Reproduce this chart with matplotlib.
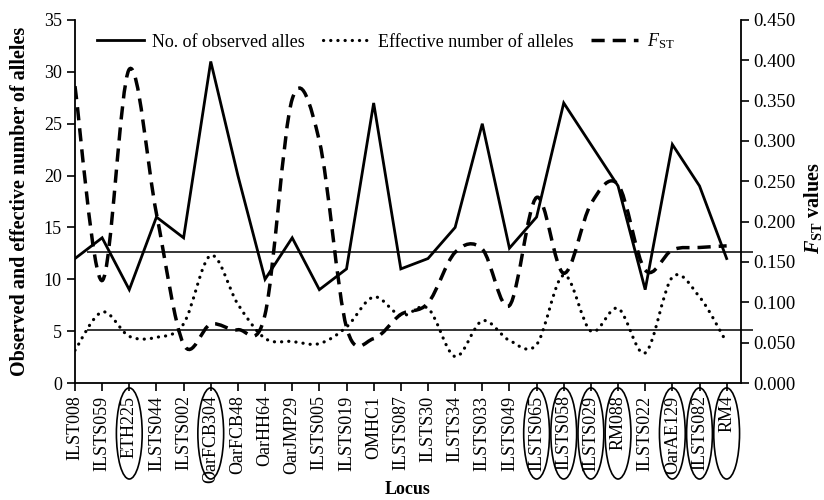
import numpy as np
import matplotlib
matplotlib.use("Agg")
import matplotlib.pyplot as plt
from matplotlib.lines import Line2D
from matplotlib.patches import Ellipse, PathPatch
from matplotlib.path import Path
from matplotlib.ticker import FormatStrFormatter
from matplotlib.transforms import blended_transform_factory

plt.rcParams["font.family"] = "serif"
plt.rcParams["font.serif"] = ["Liberation Serif", "DejaVu Serif"]
plt.rcParams["mathtext.fontset"] = "custom"
plt.rcParams["mathtext.rm"] = "Liberation Serif"
plt.rcParams["mathtext.it"] = "Liberation Serif:italic"
plt.rcParams["mathtext.bf"] = "Liberation Serif:bold"
plt.rcParams["mathtext.bfit"] = "Liberation Serif:italic:bold"

loci = [
    "ILST008", "ILSTS059", "ETH225", "ILSTS044", "ILSTS002", "OarFCB304",
    "OarFCB48", "OarHH64", "OarJMP29", "ILSTS005", "ILSTS019", "OMHC1",
    "ILSTS087", "ILSTS30", "ILSTS34", "ILSTS033", "ILSTS049", "ILSTS065",
    "ILSTS058", "ILSTS029", "RM088", "ILSTS022", "OarAE129", "ILSTS082", "RM4",
]
observed = [12, 14, 9, 16, 14, 31, 20, 10, 14, 9, 11, 27, 11, 12, 15, 25,
            13, 16, 27, 23, 19, 9, 23, 19, 12]
effective = [3.15, 6.85, 4.5, 4.4, 5.7, 12.3, 7.6, 4.3, 4.0, 3.8, 5.4, 8.3,
             6.5, 7.2, 2.55, 6.0, 4.1, 3.7, 10.4, 5.0, 7.2, 2.9, 10.2, 8.3, 3.9]
fst = [0.368, 0.127, 0.389, 0.21, 0.048, 0.073, 0.066, 0.085, 0.352, 0.300,
       0.069, 0.055, 0.085, 0.099, 0.162, 0.166, 0.096, 0.230, 0.136, 0.222,
       0.246, 0.140, 0.165, 0.168, 0.170]
ref_levels = [12.66, 5.15]
circled = ["ETH225", "OarFCB304", "ILSTS065", "ILSTS058", "ILSTS029",
           "RM088", "OarAE129", "ILSTS082", "RM4"]


def smooth_path(x, y):
    # excel-like smoothed line: bezier segments through every point
    pts = np.column_stack([x, y]).astype(float)
    n = len(pts)
    verts = [pts[0]]
    codes = [Path.MOVETO]
    for i in range(n - 1):
        p0 = pts[max(i - 1, 0)]
        p1 = pts[i]
        p2 = pts[i + 1]
        p3 = pts[min(i + 2, n - 1)]
        verts += [p1 + (p2 - p0) / 6, p2 - (p3 - p1) / 6, p2]
        codes += [Path.CURVE4] * 3
    return Path(verts, codes)


x = np.arange(len(loci))

fig, ax = plt.subplots(figsize=(8.24, 5.0), dpi=100, facecolor="white")
fig.subplots_adjust(left=0.091, right=0.899, bottom=0.234, top=0.96)
ax2 = ax.twinx()

ax.plot(x, observed, color="black", linewidth=2.0, solid_joinstyle="miter")

dotted = (0, (0.05, 2.2))
dashed = (0, (3.8, 2.3))
ax.add_patch(PathPatch(smooth_path(x, effective), facecolor="none",
                       edgecolor="black", linewidth=2.3, linestyle=dotted,
                       capstyle="round"))
ax2.add_patch(PathPatch(smooth_path(x, fst), facecolor="none",
                        edgecolor="black", linewidth=2.5, linestyle=dashed,
                        capstyle="butt"))

ax.hlines(ref_levels, 0.43, 24.97, color="black", linewidth=1.1, clip_on=False)

ax.set_xlim(0, 24.52)
ax.set_ylim(0, 35)
ax.set_yticks(np.arange(0, 36, 5))
ax2.set_ylim(0, 0.45)
ax2.set_yticks(np.arange(0, 0.451, 0.05))
ax2.yaxis.set_major_formatter(FormatStrFormatter("%.3f"))

ax.set_xticks(x)
ax.set_xticklabels(loci, rotation=90, fontsize=13)
ax.tick_params(axis="both", direction="out", length=6, width=1.2,
               labelsize=13, colors="black")
ax.tick_params(axis="x", pad=3)
ax2.tick_params(axis="y", direction="out", length=6, width=1.2,
                labelsize=13.5, pad=3)

for a in (ax, ax2):
    a.spines["top"].set_visible(False)
    for s in ("left", "right", "bottom"):
        a.spines[s].set_linewidth(1.3)
ax.spines["right"].set_visible(False)
ax2.spines["left"].set_visible(False)
ax2.spines["bottom"].set_visible(False)

ax.set_ylabel("Observed and effective number of alleles", fontsize=14.5,
              fontweight="bold")
ax.yaxis.set_label_coords(-0.068, 0.5)
ax.set_xlabel("Locus", fontsize=13, fontweight="bold")
ax.xaxis.set_label_coords(0.5, -0.27)
ax2.set_ylabel(r"$\mathbfit{F}_{\mathbf{ST}}$ values", fontsize=14.5,
               fontweight="bold", rotation=90)
ax2.yaxis.set_label_coords(1.092, 0.482)

# circles around selected locus labels
trans = blended_transform_factory(ax.transData, ax.transAxes)
for name in circled:
    i = loci.index(name)
    ax.add_patch(Ellipse((x[i], -0.139), 0.95, 0.251, transform=trans,
                         facecolor="none", edgecolor="black", linewidth=1.2,
                         clip_on=False))

handles = [
    Line2D([], [], color="black", linewidth=2.0),
    Line2D([], [], color="black", linewidth=2.3, linestyle=dotted,
           dash_capstyle="round"),
    Line2D([], [], color="black", linewidth=2.5, linestyle=dashed),
]
labels = ["No. of observed alles", "Effective number of alleles",
          r"$F_{\mathrm{ST}}$"]
ax2.legend(handles, labels, loc="upper left", bbox_to_anchor=(0.033, 0.968),
           ncol=3, frameon=False, fontsize=13, handlelength=2.6,
           handletextpad=0.45, columnspacing=1.0, borderpad=0,
           borderaxespad=0)

fig.savefig("out.png", dpi=100, facecolor="white")
plt.close(fig)
